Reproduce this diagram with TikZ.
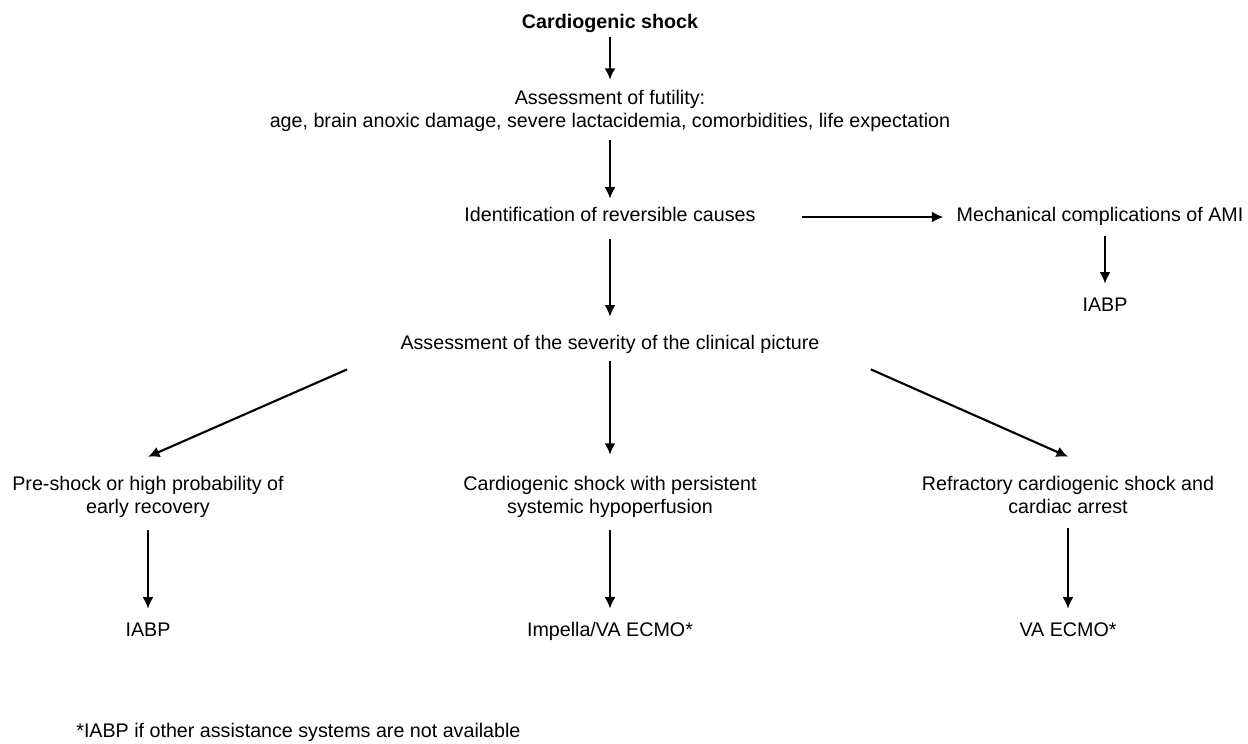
\documentclass[tikz,border=0pt]{standalone}
\usepackage{fontspec}
\setmainfont{Liberation Sans}
\usetikzlibrary{arrows.meta}
\tikzset{
  txt/.style={align=center,inner sep=0pt,font=\fontsize{11.2}{13.04}\selectfont},
  txtone/.style={txt,text height=0.75em,text depth=0.22em},
  arr/.style={line width=1.2pt,-{Latex[length=2.3mm,width=2.2mm]}}
}

\begin{document}
\begin{tikzpicture}[x=0.2mm,y=-0.2mm]
\useasboundingbox (0,0) rectangle (1248,744);
\node[txtone] (shock) at (610,24) {\bfseries Cardiogenic shock};
\node[txt] (futil) at (610,111) {Assessment of futility:\\age, brain anoxic damage, severe lactacidemia, comorbidities, life expectation};
\node[txtone] (ident) at (610,217) {Identification of reversible causes};
\node[txtone] (mech) at (1100,217) {Mechanical complications of AMI};
\node[txtone] (iabpA) at (1105,307) {IABP};
\node[txtone] (sev) at (610,345) {Assessment of the severity of the clinical picture};
\node[txt] (pre) at (148,497) {Pre-shock or high probability of\\early recovery};
\node[txt] (mid) at (610,497) {Cardiogenic shock with persistent\\systemic hypoperfusion};
\node[txt] (refr) at (1068,495) {Refractory cardiogenic shock and\\cardiac arrest};
\node[txtone] (iabpB) at (148,632) {IABP};
\node[txtone] (impella) at (610,632) {Impella/VA ECMO*};
\node[txtone] (vaecmo) at (1068,632) {VA ECMO*};
\node[txtone,anchor=west] (foot) at (76,733) {*IABP if other assistance systems are not available};

\draw[arr,shorten <=0.9mm,shorten >=2.05mm] (shock) -- (futil);
\draw[arr,shorten <=1.65mm,shorten >=1.9mm] (futil) -- (ident);
\draw[arr,shorten <=9.2mm,shorten >=2.6mm] (ident) -- (mech);
\draw[arr,shorten <=2.1mm,shorten >=2.9mm] (iabpA |- mech.south) -- (iabpA);
\draw[arr,shorten <=2.7mm,shorten >=3.9mm] (ident) -- (sev);
\draw[arr] ([xshift=-10.6mm,yshift=-3.1mm]sev.south west) -- ([yshift=3.85mm]pre.north);
\draw[arr,shorten <=1.5mm,shorten >=4.25mm] (sev) -- (mid);
\draw[arr] ([xshift=10.2mm,yshift=-3.1mm]sev.south east) -- ([yshift=3.85mm]refr.north);
\draw[arr,shorten <=2.45mm,shorten >=2.9mm] (pre) -- (iabpB);
\draw[arr,shorten <=2.45mm,shorten >=2.9mm] (mid) -- (impella);
\draw[arr,shorten <=2.7mm,shorten >=2.9mm] (refr) -- (vaecmo);
\end{tikzpicture}
\end{document}
